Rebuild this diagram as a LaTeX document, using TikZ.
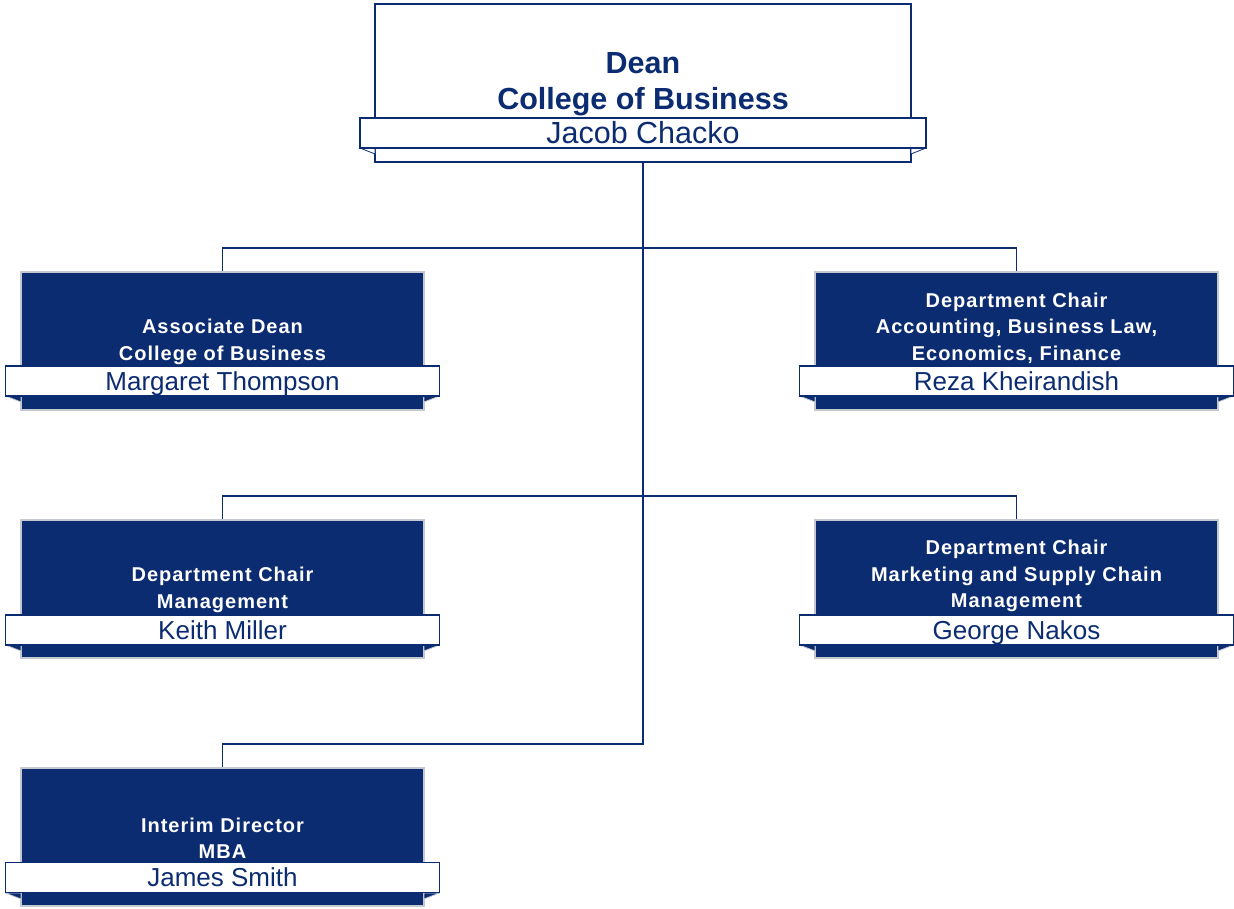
\documentclass[tikz,border=0pt]{standalone}
\usepackage{fontspec}
\setmainfont{Liberation Sans}
\newfontfamily\titlefont[LetterSpace=5]{Liberation Sans}
\usetikzlibrary{calc}
\definecolor{deanblue}{HTML}{0C2C72}
\definecolor{rimgray}{HTML}{C4C8D0}

\begin{document}
\begin{tikzpicture}
        [x=1pt,y=-1pt]
            \tikzstyle{unit}=[rectangle, draw=rimgray, line width=1.2pt, fill=deanblue,
        minimum width=403pt, minimum height=138pt, inner sep=0pt]
            \tikzstyle{band}=[rectangle, draw=deanblue, line width=1.1pt, fill=white,
        minimum width=434pt, minimum height=30pt, inner sep=0pt, text=deanblue,
        font=\fontsize{26}{30}\selectfont, text height=18.5pt, text depth=0pt]
            \tikzstyle{ttl}=[align=center, inner sep=0pt, text=white,
        font=\titlefont\bfseries\fontsize{20}{26.5}\selectfont]
            \tikzstyle{fold}=[draw=rimgray, fill=deanblue, line width=0.8pt, line join=round]
            \tikzstyle{link}=[draw=deanblue, line width=1.5pt]
        \useasboundingbox (0,0) rectangle (1234,909);
        %-----dean
         \node[rectangle, draw=deanblue, line width=1.3pt, fill=white, minimum width=536pt,
           minimum height=158pt, inner sep=0pt] (deanN) at (643,83) {};
         \node[align=center, inner sep=0pt, text=deanblue,
           font=\bfseries\fontsize{30.5}{36}\selectfont] (deanT) at (643,84) {Dean\\College of Business};
        %-----units
         \node[unit] (assocN) at (222.5,341) {};
         \node[unit] (acctN) at (1016.5,341) {};
         \node[unit] (mgmtN) at (222.5,589) {};
         \node[unit] (mktN) at (1016.5,589) {};
         \node[unit] (mbaN) at (222.5,837) {};

         \node[ttl] (assocT) at (222.5,342) {Associate Dean\\College of Business};
         \node[ttl] (acctT) at (1016.5,328) {Department Chair\\Accounting, Business Law,\\Economics, Finance};
         \node[ttl] (mgmtT) at (222.5,590) {Department Chair\\Management};
         \node[ttl] (mktT) at (1016.5,576) {Department Chair\\Marketing and Supply Chain\\Management};
         \node[ttl] (mbaT) at (222.5,838) {Interim Director\\MBA};

        %-----folds under the name bands
         \coordinate (deanB) at (643,133);
         \filldraw[fold, draw=deanblue, fill=white] (360,148) -- (375,148) -- (375,154) -- cycle;
         \filldraw[fold, draw=deanblue, fill=white] (926,148) -- (911,148) -- (911,154) -- cycle;
         \foreach \cx/\cy in {222.5/396, 1016.5/396, 222.5/645, 1016.5/645, 222.5/893}
         {
           \filldraw[fold] (\cx-217,\cy) -- (\cx-201.5,\cy) -- (\cx-201.5,\cy+6) -- cycle;
           \filldraw[fold] (\cx+217,\cy) -- (\cx+201.5,\cy) -- (\cx+201.5,\cy+6) -- cycle;
         }

        %-----names
         \node[band, minimum width=566pt, font=\fontsize{30.5}{34}\selectfont, text height=21.5pt]
           (deanName) at (deanB) {Jacob Chacko};
         \node[band] (assocName) at (222.5,381) {Margaret Thompson};
         \node[band] (acctName) at (1016.5,381) {Reza Kheirandish};
         \node[band] (mgmtName) at (222.5,630) {Keith Miller};
         \node[band] (mktName) at (1016.5,630) {George Nakos};
         \node[band] (mbaName) at (222.5,877.5) {James Smith};

        %-----links
         \coordinate (r1) at (643,248);
         \coordinate (r2) at (643,496);
         \coordinate (r3) at (643,744);
          \draw[link] (deanN.south) -- (r3) -| (mbaN.north);
         \foreach \from/\via/\to in {assocN/r1/acctN, mgmtN/r2/mktN}
         \draw[link] (\from.north) |- (\via) -| (\to.north);

        \end{tikzpicture}
\end{document}
